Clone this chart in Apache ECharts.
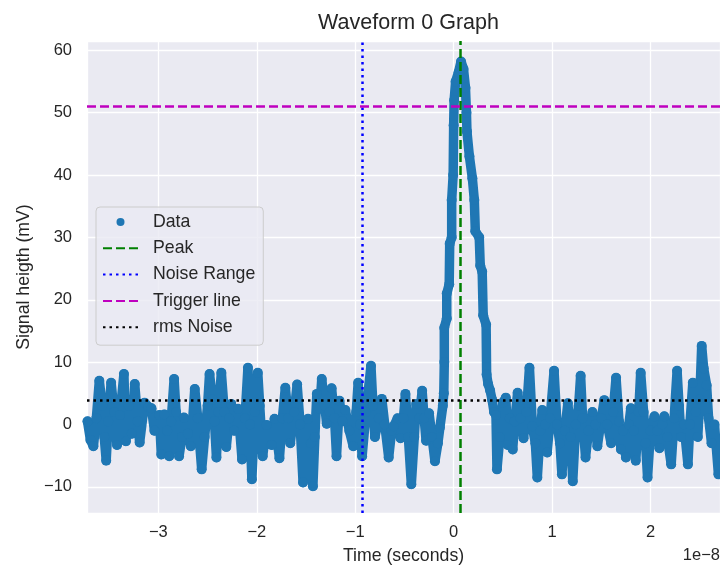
<!DOCTYPE html>
<html>
<head>
<meta charset="utf-8">
<script src="https://cdn.jsdelivr.net/npm/echarts@6.0.0/dist/echarts.min.js"></script>
<style>html,body{margin:0;padding:0;background:#fff}#chart{width:720px;height:567px}</style>
</head>
<body>
<div id="chart"></div>
<script>
// Time in units of 1e-8 s, signal in mV (estimated turning points of the waveform)
const timeValues = [
 -3.72,-3.69,-3.66,-3.63,-3.60,-3.57,-3.55,-3.53,-3.51,-3.48,-3.45,-3.42,-3.39,-3.35,-3.33,-3.30,-3.27,-3.24,-3.21,-3.19,
 -3.14,-3.10,-3.07,-3.04,-2.99,-2.97,-2.94,-2.91,-2.89,-2.87,-2.84,-2.82,-2.79,-2.76,-2.74,-2.70,-2.67,-2.63,-2.60,-2.56,
 -2.53,-2.50,-2.48,-2.45,-2.43,-2.41,-2.39,-2.36,-2.33,-2.31,-2.28,-2.26,-2.23,-2.19,-2.15,-2.12,-2.09,-2.07,-2.05,-2.02,
 -1.99,-1.97,-1.94,-1.90,-1.85,-1.82,-1.77,-1.74,-1.71,-1.68,-1.66,-1.62,-1.59,-1.56,-1.53,-1.48,-1.45,-1.43,-1.41,-1.39,
 -1.36,-1.34,-1.31,-1.29,-1.26,-1.24,-1.21,-1.19,-1.16,-1.13,-1.10,-1.06,-1.02,-0.99,-0.97,-0.95,-0.93,-0.89,-0.84,-0.82,
 -0.80,-0.76,-0.73,-0.70,-0.66,-0.63,-0.61,-0.57,-0.54,-0.51,-0.49,-0.46,-0.43,-0.40,-0.38,-0.35,-0.32,-0.30,-0.28,-0.25,
 -0.22,-0.19,-0.16,-0.14,-0.11,-0.10,-0.095,-0.095,-0.07,-0.07,-0.045,-0.04,-0.02,-0.02,-0.005,0.00,0.005,0.02,0.05,0.075,
 0.10,0.12,0.13,0.135,0.16,0.19,0.21,0.22,0.26,0.27,0.29,0.30,0.33,0.335,0.35,0.37,0.39,0.41,0.43,0.44,
 0.47,0.50,0.53,0.55,0.57,0.60,0.62,0.65,0.68,0.71,0.74,0.77,0.80,0.83,0.85,0.88,0.90,0.93,0.95,0.98,
 1.02,1.05,1.08,1.10,1.13,1.16,1.19,1.21,1.24,1.27,1.29,1.31,1.34,1.37,1.41,1.44,1.46,1.50,1.53,1.56,
 1.60,1.62,1.65,1.68,1.70,1.72,1.75,1.78,1.80,1.83,1.85,1.88,1.90,1.93,1.95,1.97,2.00,2.04,2.07,2.09,
 2.12,2.14,2.17,2.21,2.24,2.27,2.29,2.31,2.34,2.38,2.40,2.43,2.46,2.48,2.50,2.52,2.54,2.57,2.59,2.62,
 2.65,2.69,2.72
];
const signalValues = [
 0.5,-2.5,-3.5,1.0,7.0,3.0,-2.0,-5.8,0.5,6.7,2.0,-3.3,1.5,8.1,-2.7,3.0,-1.5,6.5,0.5,-2.9,
 3.5,2.8,2.6,-1.0,1.5,-4.8,1.6,-1.0,-5.1,0.5,7.3,2.0,-5.1,-2.0,1.1,-1.5,-3.5,5.7,1.0,-7.2,
 -2.0,3.0,8.1,4.0,0.5,-5.3,2.0,8.3,2.0,-3.6,1.0,3.3,-1.0,2.5,-5.6,1.0,9.1,0.0,-8.8,2.0,
 8.3,3.0,-5.1,-0.1,-3.3,0.9,-5.4,1.0,5.9,1.0,-3.0,2.0,6.4,0.0,-9.3,0.9,-3.0,-9.9,-2.0,4.9,
 2.5,7.3,3.0,0.1,2.0,5.8,1.0,-5.1,3.8,0.5,2.3,-1.0,-3.5,2.0,6.7,0.0,-5.1,2.0,9.4,3.0,
 -2.0,1.0,4.1,0.0,-5.3,-1.0,-0.3,1.0,-2.2,1.0,4.9,-2.0,-9.6,-2.0,3.3,1.0,5.4,1.0,-2.6,1.8,
 -2.0,-5.9,-3.0,-0.5,3.0,5.0,10.0,15.5,17.0,21.0,22.5,29.0,30.0,36.0,40.0,48.0,52.0,55.0,56.5,58.2,
 57.0,54.0,50.0,47.0,43.0,39.5,36.0,31.0,30.0,25.5,24.5,17.5,16.0,8.0,6.5,5.5,4.0,2.0,1.5,-7.2,
 -2.0,3.5,4.3,-3.3,1.0,-4.0,0.5,5.1,1.0,-2.2,2.0,9.1,-0.3,-3.0,-8.5,-1.0,2.3,0.0,-4.5,1.0,
 8.6,0.0,-3.0,-8.0,-1.0,3.4,-2.0,-9.1,0.0,3.0,7.8,1.0,-5.3,-1.0,2.0,0.0,-3.5,1.0,3.9,0.0,
 -3.0,2.0,7.5,0.5,-4.0,-1.0,-5.3,0.0,2.6,-1.0,-5.8,2.0,8.3,2.0,-3.0,-8.5,-1.0,1.3,-1.0,-3.8,
 0.0,1.3,-2.0,-6.4,1.0,8.6,3.0,-2.0,0.0,-6.4,0.0,6.7,2.0,-2.0,4.0,12.6,9.0,6.3,1.0,-3.0,
 0.0,-8.0,-6.0
];
const peakTime = 0.07;        // 1e-8 s
const noiseRangeTime = -0.93; // 1e-8 s
const triggerLevel = 51.0;    // mV
const rmsNoiseLevel = 3.9;    // mV
const xRange = [-3.725, 2.706];
const yRange = [-14.2, 61.5];

const FONT = "'Liberation Sans', Arial, sans-serif";
const TXT = '#262626';
const minus = v => String(v).replace('-', '\u2212');

const dataPairs = timeValues.map((t, i) => [t, signalValues[i]]);

function refSeries(name, color, dash, mark) {
  return {
    name: name, type: 'line', data: [], symbol: 'none', z: 5,
    lineStyle: { color: color, type: dash, width: 2.5 },
    itemStyle: { color: color },
    markLine: {
      silent: true, symbol: 'none', animation: false,
      label: { show: false },
      lineStyle: { color: color, type: dash, width: 2.5 },
      data: [mark]
    }
  };
}
const lineLegend = name => ({ name: name, itemStyle: { opacity: 0 } });

const chart = echarts.init(document.getElementById('chart'), null, { renderer: 'canvas' });
chart.setOption({
  animation: false,
  backgroundColor: '#ffffff',
  title: {
    text: 'Waveform 0 Graph', left: 403.5, top: 7, textAlign: 'center',
    textStyle: { fontFamily: FONT, fontSize: 21.5, fontWeight: 'normal', color: TXT }
  },
  grid: {
    left: 87, right: 0, top: 41, bottom: 54, show: true,
    backgroundColor: '#EAEAF2', borderWidth: 0, containLabel: false, outerBoundsMode: 'none'
  },
  xAxis: {
    type: 'value', min: xRange[0], max: xRange[1],
    name: 'Time (seconds)', nameLocation: 'middle', nameGap: 34,
    nameTextStyle: { fontFamily: FONT, fontSize: 17.7, color: TXT },
    axisLine: { show: false }, axisTick: { show: false },
    axisLabel: { fontFamily: FONT, fontSize: 16.5, color: TXT, margin: 11, showMinLabel: false, showMaxLabel: false,
      formatter: v => minus(v) },
    splitLine: { show: true, lineStyle: { color: '#ffffff', width: 1.3 } }
  },
  yAxis: {
    type: 'value', min: yRange[0], max: yRange[1], splitNumber: 7,
    name: 'Signal heigth (mV)', nameLocation: 'middle', nameGap: 53,
    nameTextStyle: { fontFamily: FONT, fontSize: 17.7, color: TXT },
    axisLine: { show: false }, axisTick: { show: false },
    axisLabel: { fontFamily: FONT, fontSize: 16.5, color: TXT, margin: 15, showMinLabel: false, showMaxLabel: false,
      formatter: v => minus(v) },
    splitLine: { show: true, lineStyle: { color: '#ffffff', width: 1.3 } }
  },
  legend: {
    orient: 'vertical', left: 96, top: 207,
    itemWidth: 35, itemHeight: 8, itemGap: 6.3,
    padding: [5, 8, 8, 6],
    backgroundColor: 'rgba(234,234,242,0.8)', borderColor: '#cccccc', borderWidth: 1, borderRadius: 4,
    textStyle: { fontFamily: FONT, fontSize: 17.7, color: TXT, lineHeight: 20, padding: [0, 0, 0, 10] },
    data: [{ name: 'Data', icon: 'circle' }, lineLegend('Peak'), lineLegend('Noise Range'),
           lineLegend('Trigger line'), lineLegend('rms Noise')]
  },
  graphic: [{
    type: 'text', right: 0, top: 547,
    style: { text: '1e\u22128', fontFamily: FONT, fontSize: 16.5, fill: TXT }
  }],
  series: [
    {
      name: 'Data', type: 'line', data: dataPairs, z: 2,
      symbol: 'circle', symbolSize: 10, showSymbol: true,
      itemStyle: { color: '#1f77b4' },
      lineStyle: { color: '#1f77b4', width: 9.5, cap: 'round', join: 'round' }
    },
    refSeries('Peak', '#008000', [9, 4], { xAxis: peakTime }),
    refSeries('Noise Range', '#0000ff', [2.5, 4], { xAxis: noiseRangeTime }),
    refSeries('Trigger line', '#bf00bf', [9, 4], { yAxis: triggerLevel }),
    refSeries('rms Noise', '#000000', [2.5, 4], { yAxis: rmsNoiseLevel })
  ]
});
</script>
</body>
</html>
